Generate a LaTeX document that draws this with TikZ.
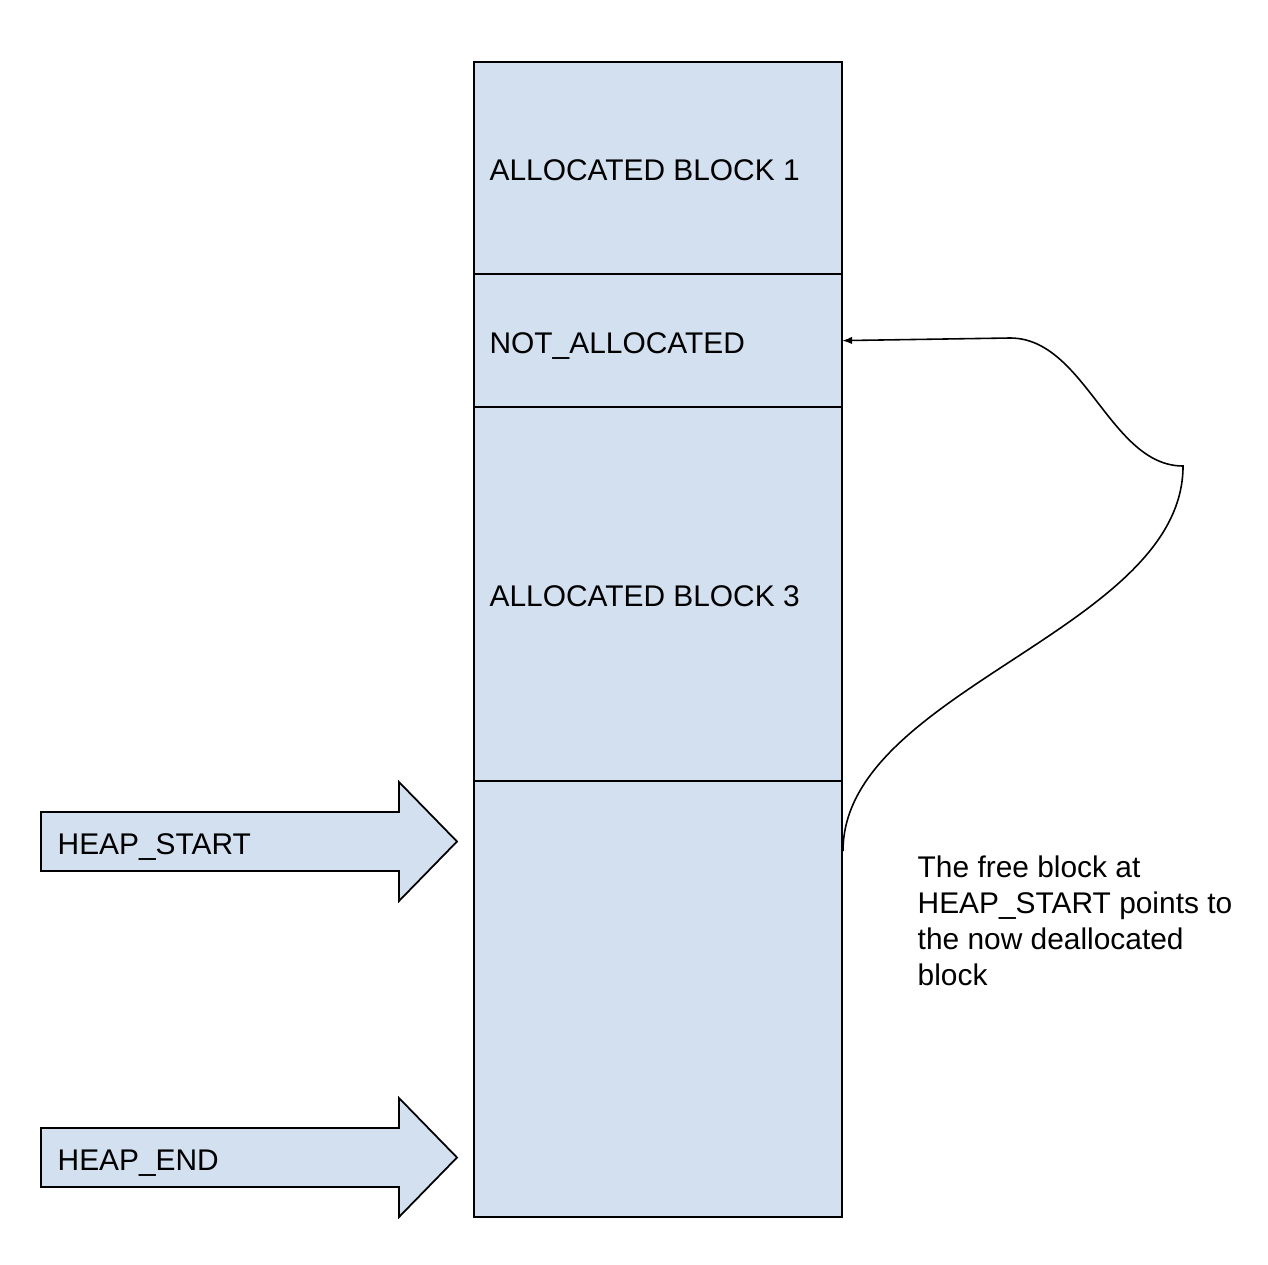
\documentclass[tikz,border=0pt]{standalone}
\usepackage{fontspec}
\setmainfont{Liberation Sans}
\usetikzlibrary{positioning,arrows.meta}
\definecolor{blockfill}{RGB}{211,224,240}
\tikzset{
  heapblock/.style={draw, fill=blockfill, line width=0.5pt, outer sep=0pt, inner sep=0pt, minimum width=3.68cm},
  lbl/.style={inner sep=0pt, text height=0.716em, text depth=0pt, anchor=west},
  heaparrow/.style={draw, fill=blockfill, line width=0.5pt, line join=miter},
  ptr/.style={line width=0.45pt, -{Latex[length=0.1cm,width=0.075cm]}},
  note/.style={inner sep=0pt, align=left, anchor=north west}
}
\begin{document}
\begin{tikzpicture}[x=0.01cm,y=-0.01cm,font=\fontsize{8.5}{10.25}\selectfont]
\useasboundingbox (0,0) rectangle (1268,1264);
% the heap, top to bottom
\node[heapblock, minimum height=2.12cm] (blk1) at (658,168) {};
\node[heapblock, minimum height=1.33cm, below=0cm of blk1] (blk2) {};
\node[heapblock, minimum height=3.74cm, below=0cm of blk2] (blk3) {};
\node[heapblock, minimum height=4.35cm, below=0cm of blk3] (blk4) {};
\draw[line width=0.5pt] (blk3.south west) -- (blk3.south east);
\node[lbl] (blk1txt) at ([xshift=0.15cm]blk1.west) {ALLOCATED BLOCK 1};
\node[lbl] (blk2txt) at ([xshift=0.15cm]blk2.west) {NOT\_ALLOCATED};
\node[lbl] (blk3txt) at ([xshift=0.15cm]blk3.west) {ALLOCATED BLOCK 3};
% heap pointers
\foreach \y/\nm/\txt in {841.5/hstart/HEAP\_START, 1157.5/hend/HEAP\_END}{
  \draw[heaparrow] (41,\y-29.5) -- (399,\y-29.5) -- (399,\y-59.5) -- (457,\y)
    -- (399,\y+59.5) -- (399,\y+29.5) -- (41,\y+29.5) -- cycle;
  \node[lbl] (\nm) at (57,\y) {\txt};
}
% free list link
\coordinate (src) at (843,851);
\coordinate (kink) at (1183,466);
\coordinate (bend) at (1010,338);
\draw[ptr] (src) .. controls (843,690) and (1183,630) .. (kink)
  .. controls (1110,466) and (1085,338) .. (bend) -- (blk2.east);
\node[note] (note) at (917,855) {The free block at\\HEAP\_START points to\\the now deallocated\\block};
\end{tikzpicture}
\end{document}
